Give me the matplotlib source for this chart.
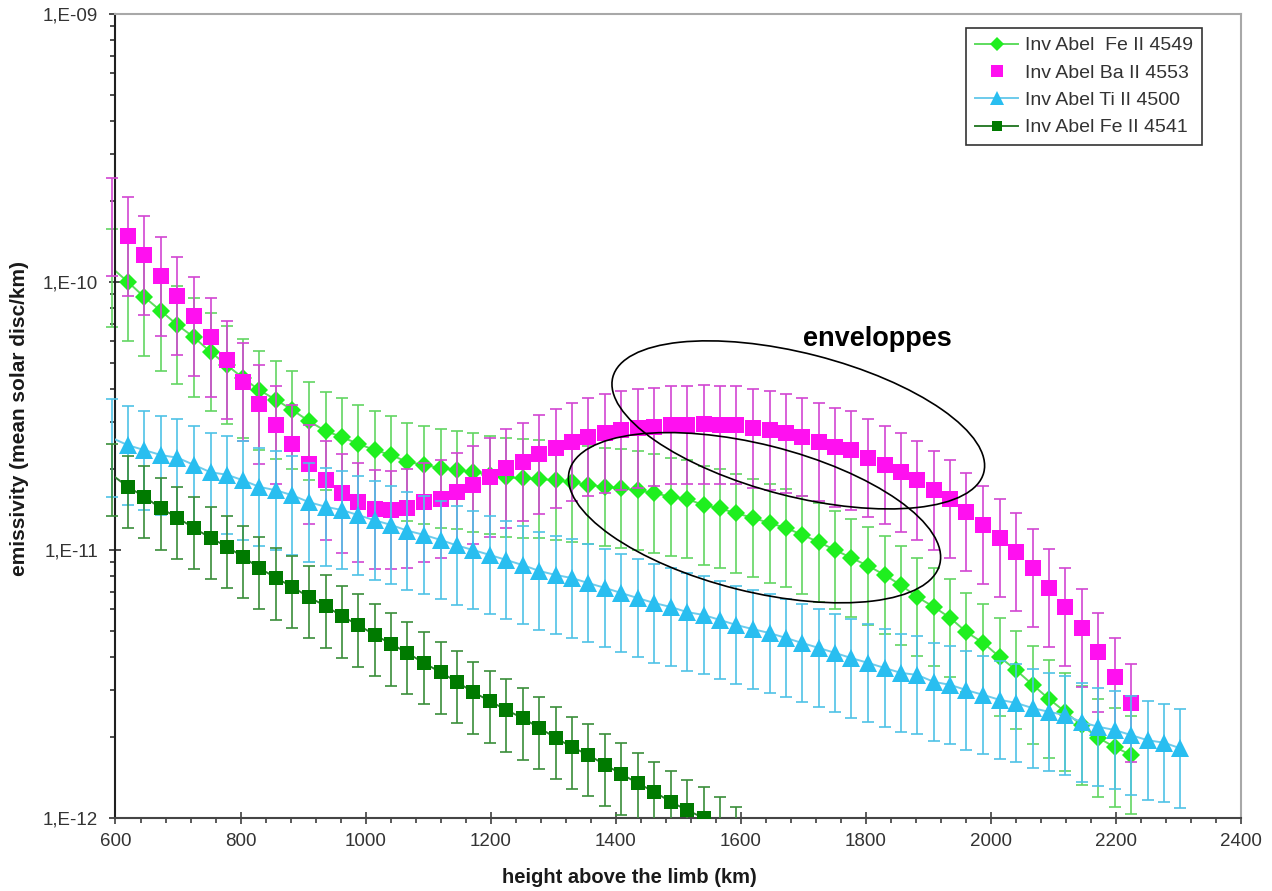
import numpy as np
import matplotlib.pyplot as plt
from matplotlib.patches import Ellipse
from matplotlib.transforms import ScaledTranslation
from matplotlib.ticker import MultipleLocator, LogLocator, NullFormatter

plt.rcParams['font.family'] = ['Liberation Sans', 'DejaVu Sans']

# height above the limb (km); the first point sits just below 600 km,
# only its error bar shows left of the axis
height = [594, 620, 646, 673, 699, 725, 752, 778, 804, 830, 857, 883, 909, 936,
          962, 988, 1015, 1041, 1067, 1093, 1120, 1146, 1172, 1199, 1225, 1251,
          1278, 1304, 1330, 1356, 1383, 1409, 1435, 1462, 1488, 1514, 1541, 1567,
          1593, 1619, 1646, 1672, 1698, 1725, 1751, 1777, 1804, 1830, 1856, 1882,
          1909, 1935, 1961, 1988, 2014, 2040, 2067, 2093, 2119, 2145, 2172, 2198,
          2224, 2251, 2277, 2303]

# emissivity, in units of 1e-12 (mean solar disc / km)
fe4549 = [113, 100, 87.9, 77.9, 69.1, 62.3, 54.8, 49.0, 43.8, 39.5, 36.3, 33.3,
          30.3, 27.8, 26.4, 24.9, 23.6, 22.6, 21.3, 20.8, 20.2, 19.9, 19.5, 19.1,
          18.7, 18.5, 18.4, 18.2, 17.9, 17.5, 17.2, 17.0, 16.7, 16.3, 15.8, 15.5,
          14.7, 14.3, 13.7, 13.2, 12.6, 12.1, 11.4, 10.7, 10.0, 9.34, 8.72, 8.07,
          7.40, 6.68, 6.13, 5.58, 4.94, 4.50, 3.99, 3.57, 3.14, 2.78, 2.49, 2.22,
          1.99, 1.84, 1.72]

ba4553 = [175, 148, 126, 105, 88.7, 74.6, 62.3, 51.2, 42.4, 35.0, 29.3, 24.9,
          20.9, 18.2, 16.3, 15.1, 14.2, 14.1, 14.3, 15.1, 15.5, 16.4, 17.5, 18.7,
          20.2, 21.3, 22.8, 24.0, 25.3, 26.4, 27.3, 28.0, 28.5, 28.8, 29.3, 29.3,
          29.5, 29.3, 29.3, 28.5, 28.0, 27.3, 26.4, 25.3, 24.2, 23.6, 22.1, 20.8,
          19.5, 18.2, 16.7, 15.5, 13.9, 12.4, 11.1, 9.83, 8.57, 7.22, 6.13, 5.12,
          4.16, 3.36, 2.69]

ti4500 = [26.2, 24.6, 23.6, 22.6, 22.1, 20.8, 19.5, 19.1, 18.2, 17.2, 16.7, 16.0,
          15.1, 14.5, 14.1, 13.5, 12.9, 12.4, 11.8, 11.4, 10.9, 10.4, 10.0, 9.58,
          9.18, 8.79, 8.35, 8.07, 7.86, 7.53, 7.22, 6.91, 6.62, 6.34, 6.13, 5.87,
          5.72, 5.48, 5.25, 5.07, 4.90, 4.70, 4.50, 4.31, 4.13, 3.95, 3.79, 3.63,
          3.48, 3.42, 3.22, 3.14, 3.00, 2.88, 2.76, 2.69, 2.57, 2.49, 2.42, 2.28,
          2.19, 2.13, 2.04, 1.95, 1.91, 1.82]

fe4541 = [19.1, 17.2, 15.8, 14.3, 13.2, 12.1, 11.1, 10.3, 9.42, 8.57, 7.86, 7.28,
          6.68, 6.18, 5.67, 5.25, 4.82, 4.46, 4.13, 3.79, 3.50, 3.22, 2.95, 2.73,
          2.53, 2.36, 2.17, 1.99, 1.84, 1.72, 1.58, 1.46, 1.35, 1.25, 1.15, 1.07,
          1.00, 0.918, 0.849]

# relative error bars
rel_err = {"fe4549": 0.40, "ba4553": 0.40, "ti4500": 0.40, "fe4541": 0.30}

labels = ["Inv Abel  Fe II 4549", "Inv Abel Ba II 4553",
          "Inv Abel Ti II 4500", "Inv Abel Fe II 4541"]

series = [
    # values, err, marker, ms, marker colour, line colour, err colour, linestyle
    (fe4549, rel_err["fe4549"], "D", 9.6, "#1FEF1F", "#5EDC5E", "#62D562", "-"),
    (ba4553, rel_err["ba4553"], "s", 11.2, "#FF10F0", "#FF10F0", "#D246D2", "none"),
    (ti4500, rel_err["ti4500"], "^", 12.8, "#29BEF0", "#6CCBEC", "#4FC2E6", "-"),
    (fe4541, rel_err["fe4541"], "s", 10.2, "#007A00", "#2E7D2E", "#3A8E3A", "-"),
]

fig = plt.figure(figsize=(12.72, 8.91), dpi=100)
ax = fig.add_axes([0.0908, 0.0819, 0.8848, 0.9024])
ax.set_yscale("log")

lines = []
for k, (vals, err, mk, ms, mc, lc, ec, ls) in enumerate(series):
    y = np.array(vals) * 1e-12
    x = np.array(height[:len(y)])
    yerr = err * y
    z = 2 + k
    ax.errorbar(x[1:], y[1:], yerr=yerr[1:], fmt="none", ecolor=ec,
                elinewidth=1.2, capsize=4.3, capthick=1.2, zorder=z)
    # error bar of the point hidden left of the axis
    edge = ax.errorbar(x[:1], y[:1], yerr=yerr[:1], fmt="none", ecolor=ec,
                       elinewidth=1.2, capsize=4.3, capthick=1.2, zorder=z)
    for art in edge.get_children():
        art.set_clip_on(False)
    ln, = ax.plot(x, y, linestyle=ls, color=lc, lw=1.4, marker=mk, ms=ms,
                  mfc=mc, mec=mc, mew=0, markevery=slice(1, None),
                  zorder=z + 0.5, label=labels[k])
    lines.append(ln)

ax.set_xlim(600, 2400)
ax.set_ylim(1e-12, 1e-9)

ax.xaxis.set_major_locator(MultipleLocator(200))
ax.xaxis.set_minor_locator(MultipleLocator(40))
ax.set_yticks([1e-12, 1e-11, 1e-10, 1e-9],
              labels=["1,E-12", "1,E-11", "1,E-10", "1,E-09"])
ax.yaxis.set_minor_locator(LogLocator(base=10, subs=range(2, 10)))
ax.yaxis.set_minor_formatter(NullFormatter())

ax.tick_params(axis="x", which="major", direction="inout", length=8, width=1.2,
               pad=6.5, labelsize=13.5, color="#404040", labelcolor="#333333")
ax.tick_params(axis="x", which="minor", direction="out", length=3.5, width=1.2,
               color="#404040")
ax.tick_params(axis="y", which="major", direction="inout", length=9, width=1.2,
               pad=8, labelsize=13.5, color="#303030", labelcolor="#333333")
ax.tick_params(axis="y", which="minor", direction="out", length=3.5, width=1.2,
               color="#303030")

ax.spines["left"].set_color("#202020")
ax.spines["bottom"].set_color("#454545")
for side in ["top", "right"]:
    ax.spines[side].set_color("#A8A8A8")
for side in ax.spines:
    ax.spines[side].set_linewidth(1.5)

ax.set_xlabel("height above the limb (km)", fontsize=14.5, fontweight="bold",
              color="#1A1A1A")
ax.xaxis.set_label_coords(0.457, -0.0734)
ax.xaxis.label.set_verticalalignment("center")
ax.set_ylabel("emissivity (mean solar disc/km)", fontsize=15, fontweight="bold",
              color="#1A1A1A")
ax.yaxis.set_label_coords(-0.0849, 0.4975)
ax.yaxis.label.set_verticalalignment("center")

leg = ax.legend(handles=lines, loc="upper right", bbox_to_anchor=(0.965, 0.9826),
                fontsize=14, frameon=True, fancybox=False, edgecolor="#333333",
                framealpha=1, borderpad=0.45, labelspacing=0.5, handlelength=2.2,
                handletextpad=0.35, borderaxespad=0, markerscale=0.75, numpoints=1)
leg.get_frame().set_linewidth(1.2)
for txt in leg.get_texts():
    txt.set_color("#333333")

# the two hand-drawn "enveloppes" ellipses (sizes in inches, centred in data units)
for cx, cy, w, h, ang in [(1692, 2.93e-11, 3.83, 1.43, -14.4),
                          (1622, 1.32e-11, 3.82, 1.47, -14.1)]:
    ell = Ellipse((0, 0), w, h, angle=ang, fill=False, ec="black", lw=1.2,
                  transform=fig.dpi_scale_trans + ScaledTranslation(cx, cy, ax.transData),
                  zorder=10)
    ax.add_patch(ell)

ax.text(1700, 5.77e-11, "enveloppes", fontsize=19.5, fontweight="bold",
        ha="left", va="baseline", color="black", zorder=11)

fig.savefig("out.png", dpi=100)
